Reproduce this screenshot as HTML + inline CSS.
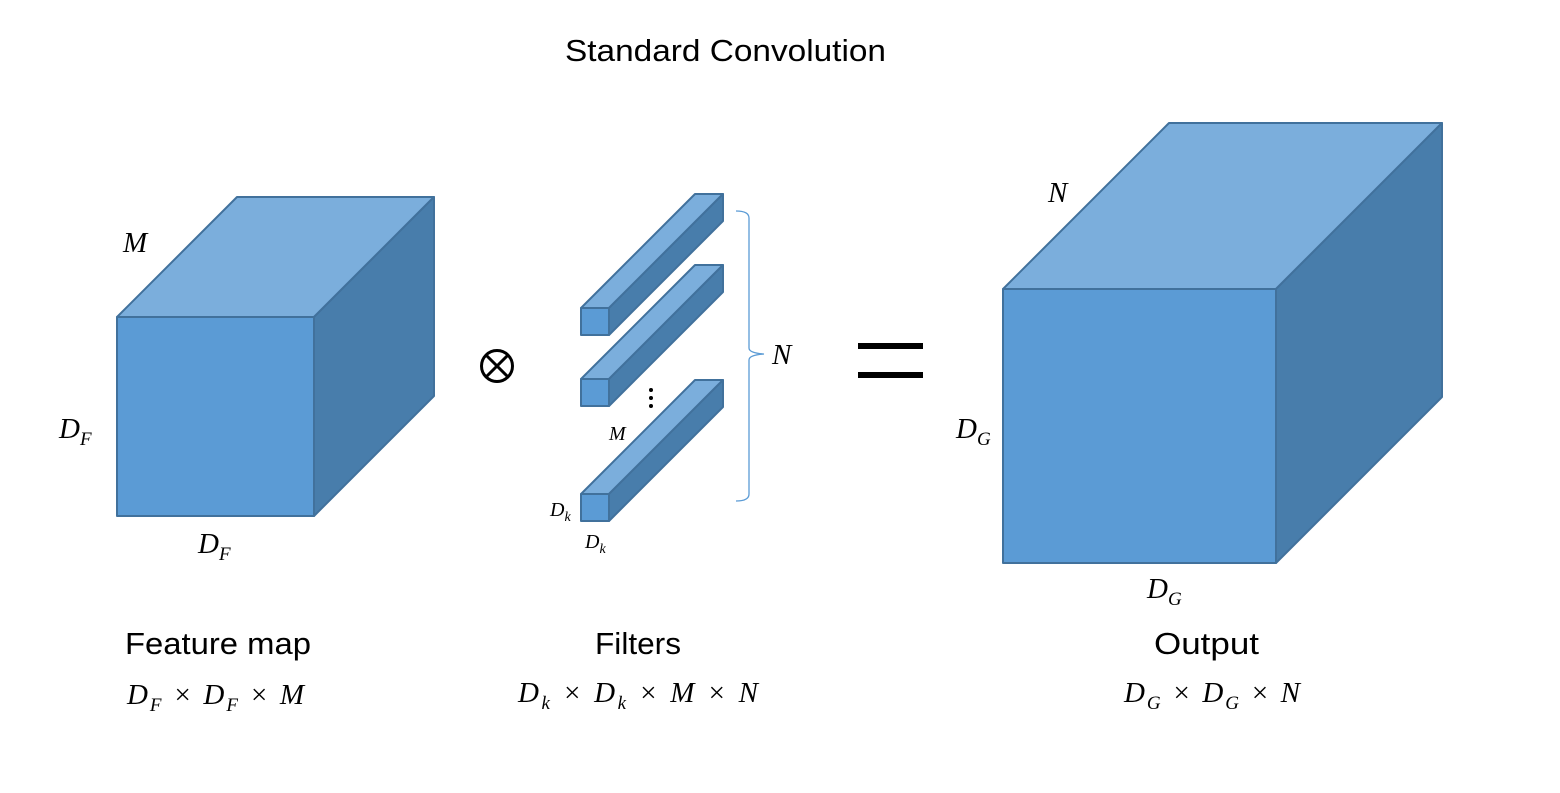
<!DOCTYPE html>
<html><head><meta charset="utf-8"><style>
body{margin:0;background:#fff}
svg{display:block}
.m{font-family:"Liberation Serif",serif;font-style:italic;fill:#000}
.t{font-family:"Liberation Sans","Noto Sans CJK KR",sans-serif;fill:#000}
</style></head><body>
<svg width="1560" height="793" viewBox="0 0 1560 793">
<text class="t" x="565" y="61" font-size="31" textLength="321" lengthAdjust="spacingAndGlyphs">Standard Convolution</text>
<g id="cubes" stroke="#41719C" stroke-width="2" stroke-linejoin="round"></g>
<g>
<text class="m" x="123" y="252" font-size="29">M</text>
<text class="m" x="59" y="438" font-size="29">D<tspan font-size="19" dy="7">F</tspan></text>
<text class="m" x="198" y="553" font-size="29">D<tspan font-size="19" dy="7">F</tspan></text>
</g>
<g>
<circle cx="497" cy="366" r="15.5" fill="none" stroke="#000" stroke-width="3"/>
<path d="M486 355 L508 377 M508 355 L486 377" stroke="#000" stroke-width="3"/>
</g>
<g>
<text class="m" x="609" y="440" font-size="20">M</text>
<text class="m" x="550" y="516" font-size="20">D<tspan font-size="14" dy="5">k</tspan></text>
<text class="m" x="585" y="548" font-size="20">D<tspan font-size="14" dy="5">k</tspan></text>
<circle cx="651" cy="390" r="2" fill="#000"/><circle cx="651" cy="398" r="2" fill="#000"/><circle cx="651" cy="406" r="2" fill="#000"/>
<path d="M736 211 Q749 211 749 218 L749 348 Q749 353 764 354 Q749 355 749 360 L749 494 Q749 501 736 501" fill="none" stroke="#5B9BD5" stroke-width="1.3"/>
<text class="m" x="772" y="364" font-size="29">N</text>
</g>
<g><rect x="858" y="343" width="65" height="6" fill="#000"/><rect x="858" y="372" width="65" height="6" fill="#000"/></g>
<g>
<text class="m" x="1048" y="202" font-size="29">N</text>
<text class="m" x="956" y="438" font-size="29">D<tspan font-size="19" dy="7">G</tspan></text>
<text class="m" x="1147" y="598" font-size="29">D<tspan font-size="19" dy="7">G</tspan></text>
</g>
<g>
<text class="t" x="125" y="654" font-size="31" textLength="186" lengthAdjust="spacingAndGlyphs">Feature map</text>
<text class="m" x="127" y="704" font-size="29" textLength="177" lengthAdjust="spacing">D<tspan font-size="19" dy="7">F</tspan><tspan dy="-7"> × D</tspan><tspan font-size="19" dy="7">F</tspan><tspan dy="-7"> × M</tspan></text>
<text class="t" x="595" y="654" font-size="31" textLength="86" lengthAdjust="spacingAndGlyphs">Filters</text>
<text class="m" x="518" y="702" font-size="29" textLength="240" lengthAdjust="spacing">D<tspan font-size="19" dy="7">k</tspan><tspan dy="-7"> × D</tspan><tspan font-size="19" dy="7">k</tspan><tspan dy="-7"> × M × N</tspan></text>
<text class="t" x="1154" y="654" font-size="31" textLength="105" lengthAdjust="spacingAndGlyphs">Output</text>
<text class="m" x="1124" y="702" font-size="29" textLength="176" lengthAdjust="spacing">D<tspan font-size="19" dy="7">G</tspan><tspan dy="-7"> × D</tspan><tspan font-size="19" dy="7">G</tspan><tspan dy="-7"> × N</tspan></text>
</g>
</svg>
<script>
const cubeX=[117,581,581,581,1003];
const cubeY=[317,308,379,494,289];
const cubeW=[197,28,28,28,273];
const cubeH=[199,27,27,27,274];
const cubeD=[120,114,114,114,166];
const cubeNames=['feature-map-cube','filter-1','filter-2','filter-n','output-cube'];
const g=document.getElementById('cubes');
const NS='http://www.w3.org/2000/svg';
for(let i=0;i<cubeX.length;i++){
  const x=cubeX[i],y=cubeY[i],w=cubeW[i],h=cubeH[i],d=cubeD[i];
  const grp=document.createElementNS(NS,'g');
  
  
  const faces=[
    [`${x},${y} ${x+d},${y-d} ${x+w+d},${y-d} ${x+w},${y}`,'#7BAEDC'],
    [`${x+w},${y} ${x+w+d},${y-d} ${x+w+d},${y+h-d} ${x+w},${y+h}`,'#487DAB'],
    [`${x},${y} ${x+w},${y} ${x+w},${y+h} ${x},${y+h}`,'#5B9BD5']];
  for(const f of faces){
    const p=document.createElementNS(NS,'polygon');
    p.setAttribute('points',f[0]);p.setAttribute('fill',f[1]);
    
    
    grp.appendChild(p);
  }
  g.appendChild(grp);
}
</script>
</body></html>
